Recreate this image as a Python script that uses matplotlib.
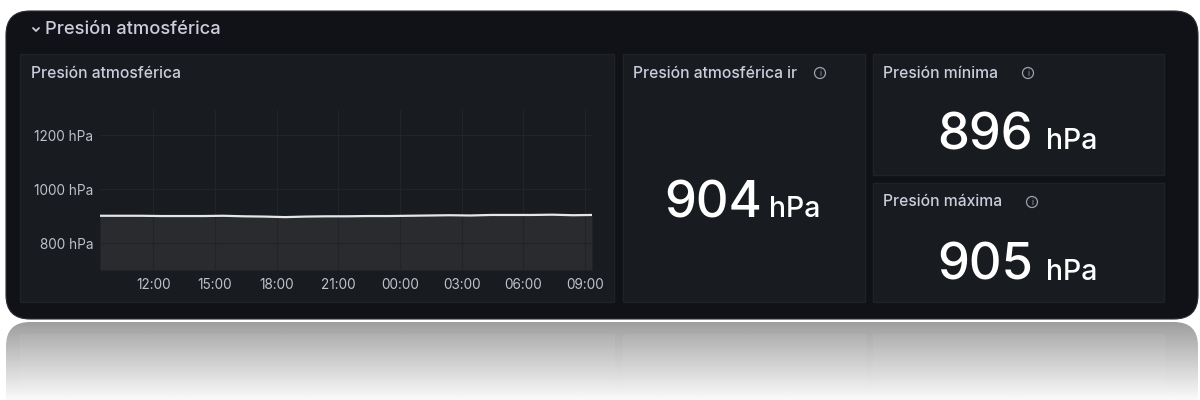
import numpy as np
import pandas as pd
import matplotlib
matplotlib.use("Agg")
import matplotlib.pyplot as plt
import matplotlib.dates as mdates
from matplotlib.patches import FancyBboxPatch, Rectangle, Circle

plt.rcParams['font.family'] = ['Inter', 'DejaVu Sans']

# data (hourly readings)
times = pd.date_range('2024-01-01 09:25', periods=24, freq='h').append(
    pd.DatetimeIndex(['2024-01-02 09:20']))
pressure = [901, 901, 901, 900, 900, 900, 901, 899, 898, 896, 898, 899,
            899, 900, 900, 901, 902, 903, 902, 904, 904, 904, 905, 903, 904]
y_ticks = [800, 1000, 1200]
y_ticklabels = ['800 hPa', '1000 hPa', '1200 hPa']

row_title = 'Presión atmosférica'
stat_titles = ['Presión atmosférica ir', 'Presión mínima', 'Presión máxima']
stat_values = [904, 896, 905]
unit = 'hPa'

BG = '#111217'
PANEL = '#181b1f'
BORDER = '#202226'
TXT = '#ccccdc'

W, H = 1200, 400
fig = plt.figure(figsize=(W / 100, H / 100), dpi=100, facecolor='white')

# background axes in pixel coordinates
bg = fig.add_axes([0, 0, 1, 1])
bg.set_xlim(0, W)
bg.set_ylim(H, 0)
bg.axis('off')

# reflection below the dashboard
grad = np.linspace(0.62, 0.98, 100)[:, None] * np.ones((1, 10))
refl_clip = FancyBboxPatch((6, 322), 1192, 120, boxstyle='round,pad=0,rounding_size=24',
                           transform=bg.transData, facecolor='none', edgecolor='none')
bg.add_patch(refl_clip)
im = bg.imshow(grad, cmap='gray', vmin=0, vmax=1, extent=[6, 1198, 400, 322],
               aspect='auto', interpolation='bilinear', zorder=0)
im.set_clip_path(refl_clip)
for (x0, x1) in [(20, 614), (623, 865), (873, 1164)]:
    bg.add_patch(Rectangle((x0, 334), x1 - x0, 80, facecolor='white', alpha=0.05,
                           edgecolor='white', lw=0.6, zorder=1))

# dashboard frame
bg.add_patch(FancyBboxPatch((6, 11), 1192, 308, boxstyle='round,pad=0,rounding_size=24',
                            facecolor=BG, edgecolor='#2a2c31', lw=0.8, zorder=2))

# row header with chevron
bg.plot([33, 36, 39], [28, 31, 28], color=TXT, lw=1.3, zorder=3, solid_capstyle='round')
bg.text(45, 29, row_title, color=TXT, fontsize=13.2, fontweight='medium',
        va='center', ha='left', zorder=3)

# panels
panels = [(20, 54, 594, 248), (623, 54, 242, 248), (873, 54, 291, 121), (873, 183, 291, 119)]
for (x, y, w, h) in panels:
    bg.add_patch(Rectangle((x, y), w, h, facecolor=PANEL, edgecolor=BORDER, lw=1, zorder=3))

bg.text(31, 73, row_title, color=TXT, fontsize=11.3, fontweight='medium',
        va='center', ha='left', zorder=4)


def info_icon(x, y):
    bg.add_patch(Circle((x, y), 5.5, facecolor='none', edgecolor='#9fa1a8', lw=0.9, zorder=4))
    bg.text(x, y + 0.5, 'i', color='#9fa1a8', fontsize=6, ha='center', va='center', zorder=4)


title_pos = [(633, 73, 820), (883, 73, 1028), (883, 202, 1032)]
for (tx, ty, ix), t in zip(title_pos, stat_titles):
    bg.text(tx, ty, t, color=TXT, fontsize=11.3, fontweight='medium',
            va='center', ha='left', zorder=4)
    info_icon(ix, ty)

value_pos = [(762, 217, 769), (1033, 149, 1046), (1033, 280, 1046)]
for (vx, vy, ux), v in zip(value_pos, stat_values):
    bg.text(vx, vy, str(v), color='#ffffff', fontsize=36.5, fontweight='medium',
            ha='right', va='baseline', zorder=4)
    bg.text(ux, vy, unit, color='#ffffff', fontsize=20.5, fontweight='medium',
            ha='left', va='baseline', zorder=4)

# time series axes
ax = fig.add_axes([100 / W, 1 - 270 / H, 492 / W, 160 / H])
ax.set_facecolor('none')
ax.set_zorder(5)
ax.plot(times, pressure, color='#e6e6e6', lw=1.6)
ax.fill_between(times, pressure, 700, color='#2a2b2f', lw=0)
ax.set_ylim(700, 1293)
ax.set_xlim(times[0], times[-1])
ax.set_yticks(y_ticks)
ax.set_yticklabels(y_ticklabels)
ax.xaxis.set_major_locator(mdates.HourLocator(byhour=range(0, 24, 3)))
ax.xaxis.set_major_formatter(mdates.DateFormatter('%H:%M'))
ax.tick_params(labelsize=9.8, length=0)
ax.tick_params(axis='y', pad=5)
ax.tick_params(axis='x', pad=6)
for lab in ax.get_xticklabels() + ax.get_yticklabels():
    lab.set_color('#c0c1c9')
ax.grid(True, color='#222428', lw=0.8)
for s in ax.spines.values():
    s.set_visible(False)

fig.savefig('out.png', dpi=100, facecolor='white')
